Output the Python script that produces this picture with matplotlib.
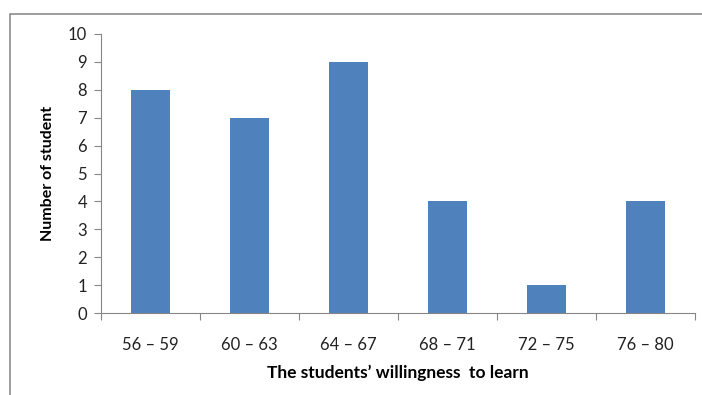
import matplotlib.pyplot as plt
from matplotlib.patches import Rectangle

categories = ["56 – 59", "60 – 63", "64 – 67", "68 – 71", "72 – 75", "76 – 80"]
counts = [8, 7, 9, 4, 1, 4]
yticks = list(range(0, 11))

plt.rcParams['font.family'] = ['Lato', 'DejaVu Sans']

W, H = 702, 395
fig = plt.figure(figsize=(W / 100, H / 100), dpi=100)

# outer chart frame (cut off at right and bottom)
fig.patches.append(Rectangle((10 / W, -0.1), 1.2, 1 - 14 / H + 0.1,
                             transform=fig.transFigure, fill=False,
                             edgecolor='#8c8c8c', linewidth=1.2))

ax = fig.add_axes([101 / W, 1 - 313 / H, (695 - 101) / W, (313 - 34) / H])
x = range(len(categories))
ax.bar(x, counts, width=0.4, color='#4f81bd')

ax.set_xlim(-0.5, len(categories) - 0.5)
ax.set_ylim(0, 10)
ax.set_yticks(yticks)

# tick marks sit at category boundaries, labels at the centres
ax.set_xticks([i - 0.5 for i in range(len(categories) + 1)])
ax.set_xticklabels([])
ax.set_xticks(list(x), minor=True)
ax.set_xticklabels(categories, minor=True)
ax.tick_params(axis='x', which='minor', length=0, pad=17, labelsize=12, colors='#222222')
ax.tick_params(axis='x', which='major', length=5, color='#868686', direction='out')
ax.tick_params(axis='y', length=5, color='#868686', labelsize=12, labelcolor='#222222', pad=5)

for s in ['top', 'right']:
    ax.spines[s].set_visible(False)
for s in ['left', 'bottom']:
    ax.spines[s].set_color('#868686')

ax.set_ylabel("Number of student", fontsize=11.5, fontweight='bold', labelpad=9)
ax.set_xlabel("The students’ willingness  to learn", fontsize=12.5, fontweight='bold', labelpad=9)

fig.savefig("out.png", dpi=100)
